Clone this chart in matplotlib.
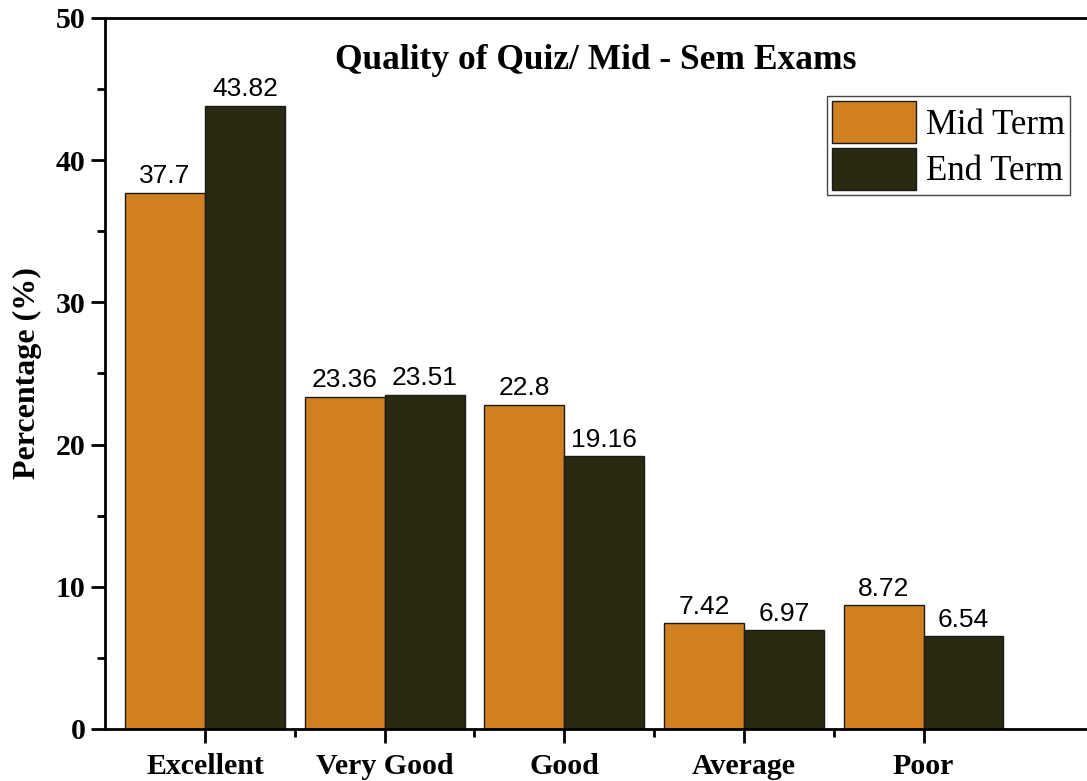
import numpy as np
import matplotlib
matplotlib.use('Agg')
import matplotlib.pyplot as plt
from matplotlib.ticker import MultipleLocator

categories = ["Excellent", "Very Good", "Good", "Average", "Poor"]
mid_term = [37.7, 23.36, 22.8, 7.42, 8.72]
end_term = [43.82, 23.51, 19.16, 6.97, 6.54]
mid_labels = ["37.7", "23.36", "22.8", "7.42", "8.72"]
end_labels = ["43.82", "23.51", "19.16", "6.97", "6.54"]

serif = ['Liberation Serif', 'DejaVu Serif']
sans = ['Liberation Sans', 'DejaVu Sans']

fig = plt.figure(figsize=(10.87, 7.81), dpi=100)
ax = fig.add_axes([0.0966, 0.0666, 0.9034, 0.9106])

x = np.arange(len(categories))
w = 0.445
b1 = ax.bar(x - w / 2, mid_term, w, color='#D0801E', edgecolor='#1a1a1a', linewidth=1, label='Mid Term')
b2 = ax.bar(x + w / 2, end_term, w, color='#2A2912', edgecolor='#1a1a1a', linewidth=1, label='End Term')

for rect, lab in zip(b1, mid_labels):
    ax.text(rect.get_x() + rect.get_width() / 2, rect.get_height() + 0.3, lab,
            ha='center', va='bottom', fontsize=19, family=sans)
for rect, lab in zip(b2, end_labels):
    ax.text(rect.get_x() + rect.get_width() / 2, rect.get_height() + 0.3, lab,
            ha='center', va='bottom', fontsize=19, family=sans)

ax.set_ylim(0, 50)
ax.set_xlim(-0.557, 4.91)
ax.yaxis.set_major_locator(MultipleLocator(10))
ax.yaxis.set_minor_locator(MultipleLocator(5))
ax.set_xticks(x)
ax.set_xticks(x[:-1] + 0.5, minor=True)
ax.set_xticklabels(categories)
for lab in ax.get_xticklabels() + ax.get_yticklabels():
    lab.set_family(serif)
    lab.set_fontweight('bold')
    lab.set_fontsize(21.5)
ax.tick_params(which='major', direction='out', length=10, width=2, pad=4)
ax.tick_params(which='minor', direction='out', length=6, width=2)
ax.tick_params(axis='x', which='major', pad=7)

for s in ['left', 'bottom', 'top']:
    ax.spines[s].set_linewidth(2)
ax.spines['right'].set_visible(False)

ax.set_ylabel("Percentage (%)", family=serif, fontweight='bold', fontsize=23, labelpad=10)
ax.text(0.5, 0.94, "Quality of Quiz/ Mid - Sem Exams", transform=ax.transAxes,
        ha='center', va='center', family=serif, fontweight='bold', fontsize=25.5)

leg = ax.legend(loc='upper right', bbox_to_anchor=(0.99, 0.9), prop={'family': serif, 'size': 25},
                handlelength=2.4, handleheight=1.5, handletextpad=0.3, borderpad=0.15,
                labelspacing=0.12, borderaxespad=0.2, fancybox=False, edgecolor='#444444',
                framealpha=1)
leg.get_frame().set_linewidth(1)

fig.savefig("out.png", dpi=100)
